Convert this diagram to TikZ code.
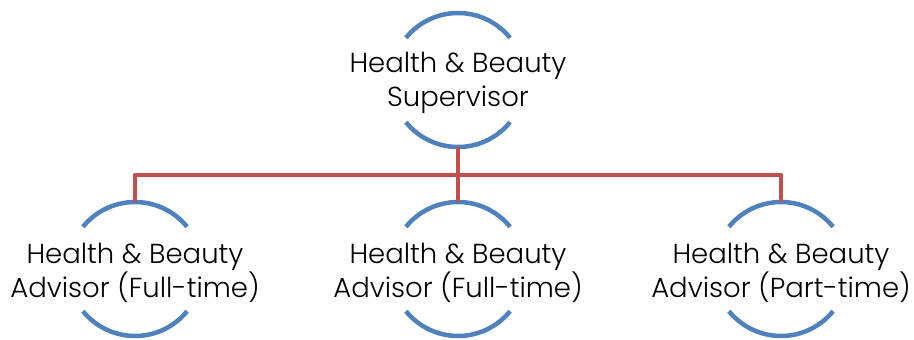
\documentclass[tikz,border=0pt]{standalone}
\usepackage{fontspec}
\setmainfont{Poppins}[UprightFont=* Light]
\definecolor{arcblue}{HTML}{4F81BD}
\definecolor{linkred}{HTML}{C0504D}
\begin{document}
\begin{tikzpicture}[x=1pt,y=-1pt,
  arcs/.style={draw=arcblue,line width=4.5pt},
  link/.style={draw=linkred,line width=4.5pt},
  lbl/.style={align=center,font=\fontsize{27.5}{34}\selectfont,text=black,inner sep=0pt}]
\useasboundingbox (0,0) rectangle (914,340);
% nodes
\node[lbl] (sup) at (458,83) {Health \& Beauty\\Supervisor};
\node[lbl] (a1) at (135,273) {Health \& Beauty\\Advisor (Full-time)};
\node[lbl] (a2) at (458,273) {Health \& Beauty\\Advisor (Full-time)};
\node[lbl] (a3) at (781,273) {Health \& Beauty\\Advisor (Part-time)};
% circle arcs
\foreach \n/\cx/\cy in {sup/458/80, a1/135/269, a2/458/269, a3/781/269}{
  \coordinate (\n-c) at (\cx,\cy);
  \draw[arcs] ([shift={(-141:67)}]\n-c) arc[start angle=-141,end angle=-39,radius=67];
  \draw[arcs] ([shift={(141:67)}]\n-c) arc[start angle=141,end angle=39,radius=67];
  \coordinate (\n-top) at ([shift={(0,-67)}]\n-c);
  \coordinate (\n-bot) at ([shift={(0,67)}]\n-c);
}
\coordinate (bus) at (458,175);
\draw[link] (sup-bot) -- (bus);
\draw[link,line join=round] (a1-top) |- (bus) -| (a3-top);
\draw[link] (bus) -- (a2-top);
\end{tikzpicture}
\end{document}
